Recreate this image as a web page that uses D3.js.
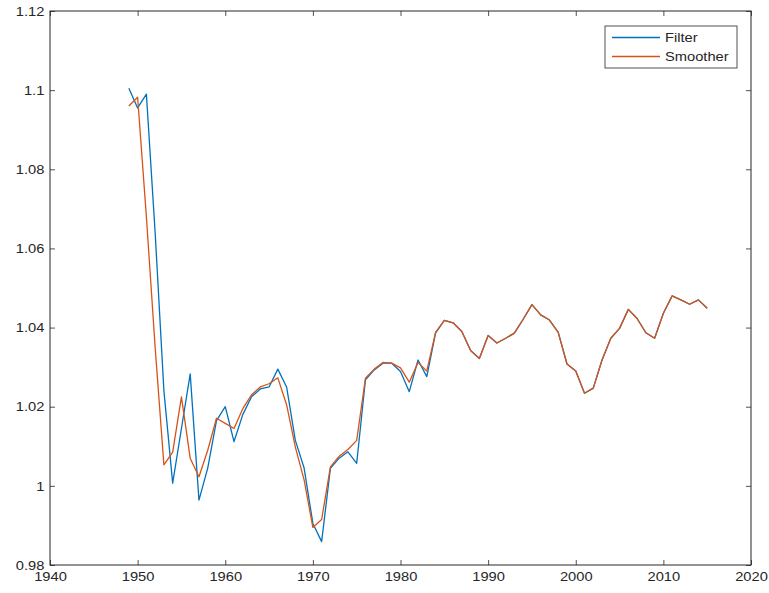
<!DOCTYPE html>
<html>
<head>
<meta charset="utf-8">
<script src="https://cdn.jsdelivr.net/npm/d3@7"></script>
<style>
  html, body { margin: 0; padding: 0; background: #ffffff; }
  svg text { font-family: "Liberation Sans", Arial, Helvetica, sans-serif; fill: #262626; }
</style>
</head>
<body>
<svg id="chart" width="769" height="593"></svg>
<script>
// Years of the estimation sample
const years = [
  1949, 1950, 1951, 1952, 1953, 1954, 1955, 1956, 1957, 1958,
  1959, 1960, 1961, 1962, 1963, 1964, 1965, 1966, 1967, 1968,
  1969, 1970, 1971, 1972, 1973, 1974, 1975, 1976, 1977, 1978,
  1979, 1980, 1981, 1982, 1983, 1984, 1985, 1986, 1987, 1988,
  1989, 1990, 1991, 1992, 1993, 1994, 1995, 1996, 1997, 1998,
  1999, 2000, 2001, 2002, 2003, 2004, 2005, 2006, 2007, 2008,
  2009, 2010, 2011, 2012, 2013, 2014, 2015
];

// Filtered state estimates
const filterValues = [
  1.1005, 1.0955, 1.0990, 1.0640, 1.0240, 1.0007, 1.0145, 1.0283, 0.9964, 1.0045,
  1.0165, 1.0200, 1.0112, 1.0180, 1.0225, 1.0245, 1.0250, 1.0295, 1.0250, 1.0115,
  1.0045, 0.9905, 0.9859, 1.0044, 1.0070, 1.0086, 1.0057, 1.0268, 1.0293, 1.0310,
  1.0310, 1.0289, 1.0238, 1.0318, 1.0276, 1.0386, 1.0418, 1.0412, 1.0390, 1.0342,
  1.0322, 1.0380, 1.0361, 1.0373, 1.0386, 1.0421, 1.0458, 1.0432, 1.0419, 1.0388,
  1.0308, 1.0290, 1.0234, 1.0247, 1.0318, 1.0373, 1.0398, 1.0446, 1.0423, 1.0387,
  1.0373, 1.0436, 1.0480, 1.0470, 1.0459, 1.0470, 1.0449
];

// Smoothed state estimates
const smootherValues = [
  1.0960, 1.0982, 1.0680, 1.0350, 1.0053, 1.0085, 1.0225, 1.0070, 1.0023, 1.0090,
  1.0171, 1.0158, 1.0145, 1.0195, 1.0230, 1.0250, 1.0258, 1.0273, 1.0205, 1.0098,
  1.0015, 0.9895, 0.9915, 1.0048, 1.0075, 1.0092, 1.0115, 1.0272, 1.0295, 1.0312,
  1.0310, 1.0298, 1.0262, 1.0312, 1.0290, 1.0388, 1.0418, 1.0412, 1.0390, 1.0342,
  1.0322, 1.0380, 1.0361, 1.0373, 1.0386, 1.0421, 1.0458, 1.0432, 1.0419, 1.0388,
  1.0308, 1.0290, 1.0234, 1.0247, 1.0318, 1.0373, 1.0398, 1.0446, 1.0423, 1.0387,
  1.0373, 1.0436, 1.0480, 1.0470, 1.0459, 1.0470, 1.0449
];

const xTicks = [1940, 1950, 1960, 1970, 1980, 1990, 2000, 2010, 2020];
const yTicks = [0.98, 1, 1.02, 1.04, 1.06, 1.08, 1.1, 1.12];

const seriesNames = ["Filter", "Smoother"];
const seriesColors = ["#0072BD", "#D95319"];

const svg = d3.select("#chart");
const box = { left: 50, right: 751, top: 11, bottom: 565 };
const axisColor = "#262626";
const fontSize = 13;
const textStretch = "scale(1.13,1)";

const x = d3.scaleLinear().domain([1940, 2020]).range([box.left, box.right]);
const y = d3.scaleLinear().domain([0.98, 1.12]).range([box.bottom, box.top]);

const fmtY = d => String(+d.toFixed(2));

function styleAxis(g) {
  g.select(".domain").remove();
  g.selectAll(".tick line").attr("stroke", axisColor).attr("stroke-width", 0.8);
  g.selectAll(".tick text")
    .attr("font-family", "Liberation Sans, Arial, sans-serif")
    .attr("font-size", fontSize)
    .attr("fill", axisColor)
    .attr("transform", textStretch);
}

// Bottom and left axes with inward ticks
svg.append("g")
  .attr("transform", `translate(0,${box.bottom})`)
  .call(d3.axisBottom(x).tickValues(xTicks).tickFormat(d3.format("d")).tickSize(-5).tickPadding(7))
  .call(styleAxis);

svg.append("g")
  .attr("transform", `translate(${box.left},0)`)
  .call(d3.axisLeft(y).tickValues(yTicks).tickFormat(fmtY).tickSize(-5).tickPadding(5))
  .call(styleAxis);

// Mirrored ticks on the top and right edges
svg.append("g")
  .attr("transform", `translate(0,${box.top})`)
  .call(d3.axisTop(x).tickValues(xTicks).tickFormat("").tickSize(-5))
  .call(styleAxis);

svg.append("g")
  .attr("transform", `translate(${box.right},0)`)
  .call(d3.axisRight(y).tickValues(yTicks).tickFormat("").tickSize(-5))
  .call(styleAxis);

// Axes box
svg.append("rect")
  .attr("x", box.left).attr("y", box.top)
  .attr("width", box.right - box.left).attr("height", box.bottom - box.top)
  .attr("fill", "none").attr("stroke", axisColor).attr("stroke-width", 1);

// Series lines
const line = d3.line()
  .x(d => x(d[0]))
  .y(d => y(d[1]));

const series = [filterValues, smootherValues];
series.forEach((vals, i) => {
  svg.append("path")
    .datum(years.map((yr, k) => [yr, vals[k]]))
    .attr("fill", "none")
    .attr("stroke", seriesColors[i])
    .attr("stroke-width", 1.3)
    .attr("stroke-linejoin", "round")
    .attr("d", line);
});

// Legend
const legend = svg.append("g").attr("transform", "translate(605,26)");
legend.append("rect")
  .attr("width", 132).attr("height", 42)
  .attr("fill", "#ffffff").attr("stroke", axisColor).attr("stroke-width", 0.8);
seriesNames.forEach((name, i) => {
  const ly = 11.5 + i * 19;
  legend.append("line")
    .attr("x1", 7).attr("x2", 55).attr("y1", ly).attr("y2", ly)
    .attr("stroke", seriesColors[i]).attr("stroke-width", 1.3);
  legend.append("text")
    .attr("transform", `translate(60,${ly}) ${textStretch}`)
    .attr("dy", "0.35em")
    .attr("font-size", fontSize)
    .text(name);
});
</script>
</body>
</html>
